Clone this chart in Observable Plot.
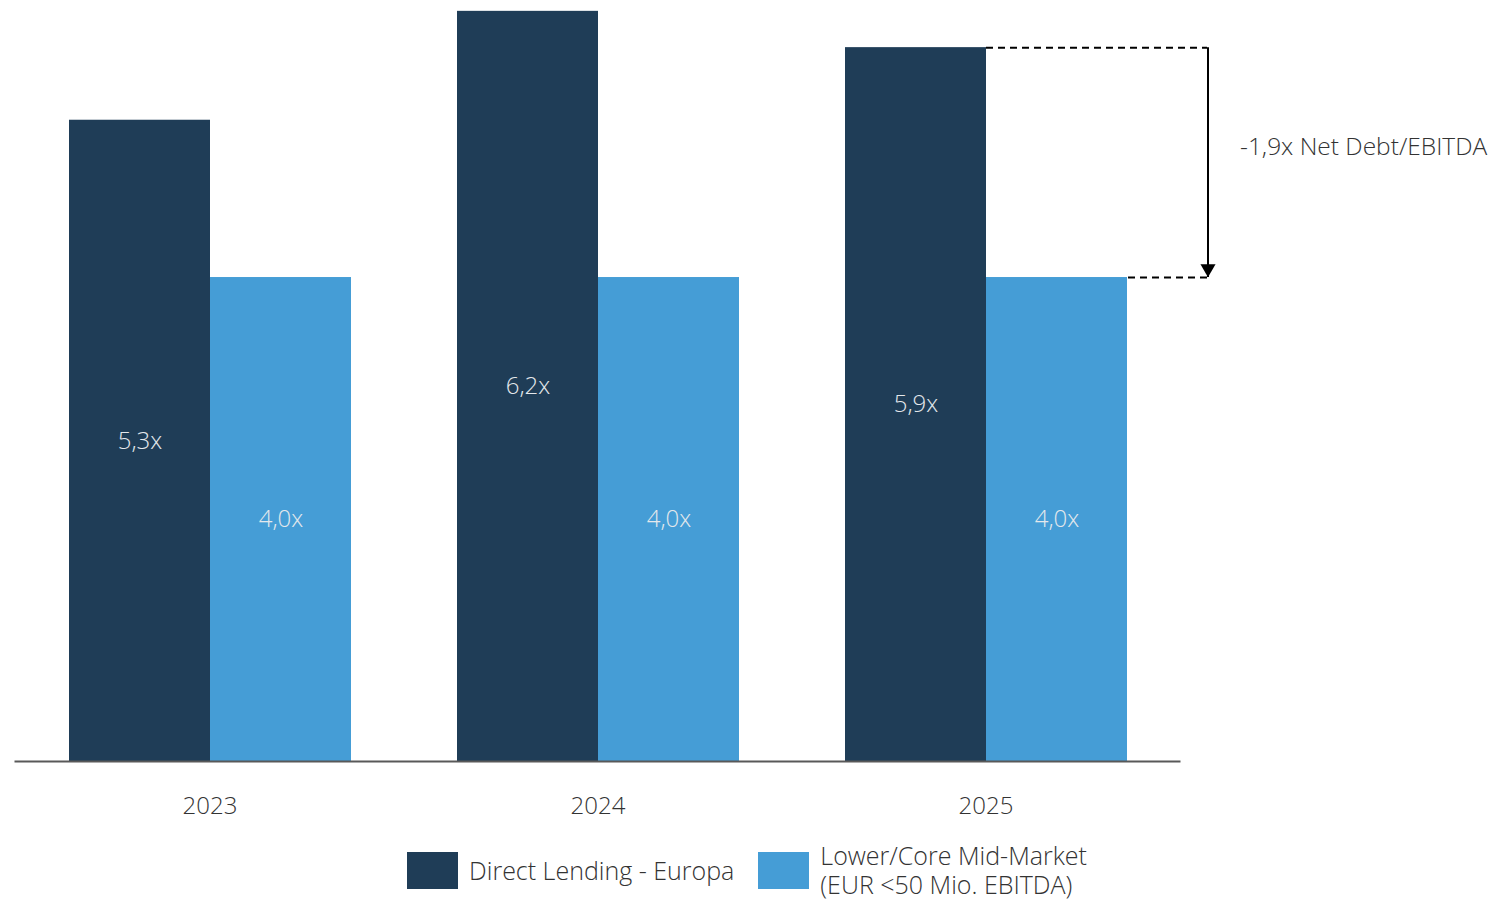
<!DOCTYPE html>
<html>
<head>
<meta charset="utf-8">
<script src="https://cdn.jsdelivr.net/npm/d3@7"></script>
<script src="https://cdn.jsdelivr.net/npm/@observablehq/plot@0.6"></script>
<style>
  body { margin: 0; background: #ffffff; font-family: "Open Sans", sans-serif; }
  #legend { display: flex; justify-content: center; align-items: center; height: 70px; color: #333333; font-size: 25px; font-weight: 300; }
  .item { display: flex; align-items: center; margin: 0 12px; }
  .swatch { width: 51px; height: 37px; margin-right: 11px; }
  .label { line-height: 29px; }
</style>
</head>
<body>
<div id="chart"></div>
<div id="legend"></div>
<script>
const years = ["2023", "2024", "2025"];
const series = ["Direct Lending - Europa", "Lower/Core Mid-Market (EUR <50 Mio. EBITDA)"];
const legendLabels = [["Direct Lending - Europa"], ["Lower/Core Mid-Market", "(EUR <50 Mio. EBITDA)"]];
const directLending = [5.3, 6.2, 5.9];
const lowerMidMarket = [4.0, 4.0, 4.0];
const colors = ["#1f3d57", "#459dd6"];
const annotationYear = ["2025"];
const annotationFrom = [5.9];
const annotationTo = [4.0];
const annotationText = ["-1,9x Net Debt/EBITDA"];

const data = years.flatMap((year, i) => [
  {year, series: series[0], value: directLending[i]},
  {year, series: series[1], value: lowerMidMarket[i]}
]);
const ann = annotationYear.map((year, i) => ({year, from: annotationFrom[i], to: annotationTo[i], text: annotationText[i]}));
const fmt = v => v.toFixed(1).replace(".", ",") + "x";

const chart = Plot.plot({
  width: 1494,
  height: 835,
  marginLeft: 15,
  marginRight: 314,
  marginTop: 6,
  marginBottom: 74,
  style: {fontFamily: "Open Sans", fontSize: "24px", fontWeight: 300, color: "#333333", background: "#ffffff", overflow: "visible"},
  fx: {domain: years, paddingInner: 0.27, paddingOuter: 0.135, axis: "bottom", label: null, tickSize: 0, tickPadding: 35},
  x: {domain: series, padding: 0, axis: null},
  y: {domain: [0, 6.24], axis: null},
  color: {domain: series, range: colors},
  marks: [
    Plot.barY(data, {fx: "year", x: "series", y: "value", fill: "series"}),
    Plot.frame({anchor: "bottom", facet: "super", stroke: "#595959", strokeWidth: 2, insetLeft: -53, insetRight: -52}),
    Plot.text(data, {fx: "year", x: "series", y: d => d.value / 2, text: d => fmt(d.value), fill: "#e4e8ec", fontSize: 24, fontWeight: 300}),
    Plot.ruleY(ann, {fx: "year", x1: () => series[1], x2: () => series[1], y: "from", insetRight: -80, stroke: "black", strokeWidth: 2, strokeDasharray: "7,5"}),
    Plot.ruleY(ann, {fx: "year", x1: () => series[1], x2: () => series[1], y: "to", insetLeft: 142, insetRight: -80, stroke: "black", strokeWidth: 2, strokeDasharray: "7,5"}),
    Plot.ruleX(ann, {fx: "year", x: () => series[1], y1: "from", y2: "to", dx: 151, stroke: "black", strokeWidth: 2}),
    Plot.dot(ann, {fx: "year", x: () => series[1], y: "to", dx: 151, dy: -9, symbol: "triangle2", r: 7.2, fill: "black", stroke: "none", rotate: 180}),
    Plot.text(ann, {fx: "year", x: () => series[1], y: d => (d.from + d.to) / 2, text: "text", textAnchor: "start", dx: 183, dy: -15, fontSize: 24.5, fontWeight: 300, fill: "#333333"})
  ]
});
document.getElementById("chart").appendChild(chart);

const legend = document.getElementById("legend");
series.forEach((s, i) => {
  const item = document.createElement("div");
  item.className = "item";
  const sw = document.createElement("div");
  sw.className = "swatch";
  sw.style.background = colors[i];
  const lab = document.createElement("div");
  lab.className = "label";
  legendLabels[i].forEach((line, j) => {
    if (j) lab.appendChild(document.createElement("br"));
    lab.appendChild(document.createTextNode(line));
  });
  item.appendChild(sw);
  item.appendChild(lab);
  legend.appendChild(item);
});
</script>
</body>
</html>
